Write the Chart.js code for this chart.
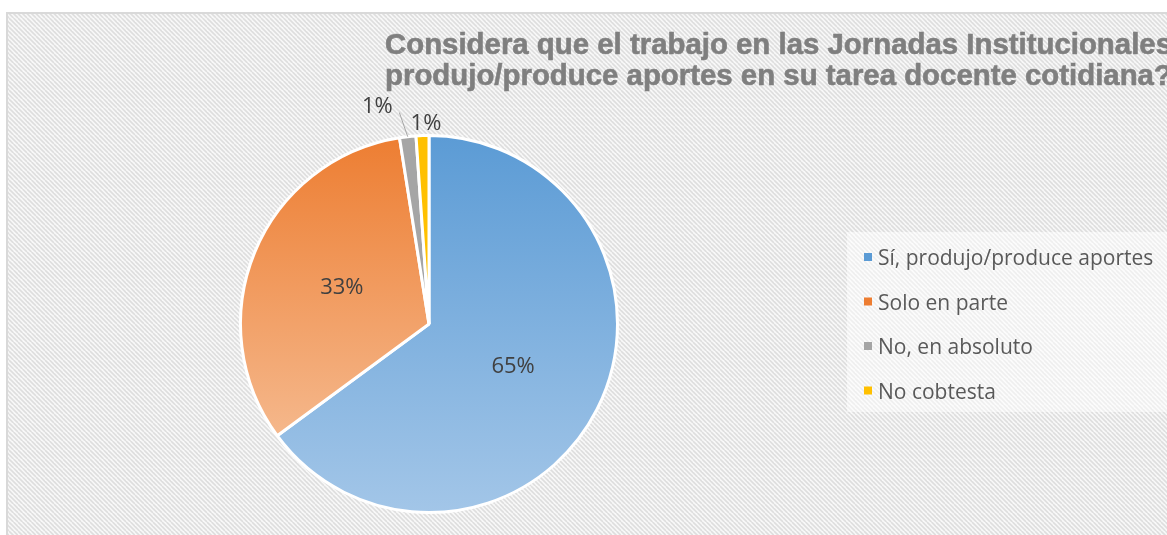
<!DOCTYPE html>
<html>
<head>
<meta charset="utf-8">
<script src="https://cdn.jsdelivr.net/npm/chart.js@4.4.1/dist/chart.umd.min.js"></script>
<style>
  html, body { margin: 0; padding: 0; background: #fff; }
  #wrap { width: 1167px; height: 535px; }
</style>
</head>
<body>
<div id="wrap"><canvas id="pie" width="1167" height="535"></canvas></div>
<script>
// ─── Data ───
const titleLines = [
  'Considera que el trabajo en las Jornadas Institucionales',
  'produjo/produce aportes en su tarea docente cotidiana?',
];
const categories = ['Sí, produjo/produce aportes', 'Solo en parte', 'No, en absoluto', 'No cobtesta'];
const shares = [64.9, 32.6, 1.4, 1.1];
const sliceColors = ['#5B9BD5', '#ED7D31', '#A5A5A5', '#FFC000'];
const sliceColorsLight = ['#A3C6E8', '#F5B88C', '#A5A5A5', '#FFC000'];

// ─── Helpers ───
function stripePattern(ctx) {
  const tile = document.createElement('canvas');
  tile.width = 9; tile.height = 9;
  const t = tile.getContext('2d');
  t.fillStyle = '#f8f8f8';
  t.fillRect(0, 0, 9, 9);
  t.strokeStyle = '#dedede';
  t.lineWidth = 1.6;
  for (const off of [-9, -4.5, 0, 4.5, 9]) {
    t.beginPath();
    t.moveTo(off, 0);
    t.lineTo(off + 9, 9);
    t.stroke();
  }
  return ctx.createPattern(tile, 'repeat');
}

function sliceFill(context) {
  const i = context.dataIndex;
  const area = context.chart.chartArea;
  if (!area || i > 1) return sliceColors[i];
  const h = area.bottom - area.top;
  const bottom = i === 0 ? area.bottom : area.top + h * 0.8;
  const g = context.chart.ctx.createLinearGradient(0, area.top, 0, bottom);
  g.addColorStop(0, sliceColors[i]);
  g.addColorStop(1, sliceColorsLight[i]);
  return g;
}

// ─── Plugins ───
const backdrop = {
  id: 'backdrop',
  beforeDraw(chart) {
    const { ctx, width, height } = chart;
    ctx.save();
    ctx.fillStyle = '#fff';
    ctx.fillRect(0, 0, width, height);
    ctx.fillStyle = stripePattern(ctx);
    ctx.fillRect(7, 13, width, height);
    ctx.strokeStyle = '#d9d9d9';
    ctx.lineWidth = 2;
    ctx.strokeRect(7, 13, width + 10, height + 10);
    // title
    ctx.fillStyle = '#7f7f7f';
    ctx.strokeStyle = '#7f7f7f';
    ctx.lineWidth = 0.6;
    ctx.font = 'bold 29px "Liberation Sans", Arial, sans-serif';
    ctx.textBaseline = 'alphabetic';
    const w0 = ctx.measureText(titleLines[0]).width;
    const sx = 787 / w0;
    titleLines.forEach((line, k) => {
      ctx.save();
      ctx.translate(385, 54 + k * 31);
      ctx.scale(sx, 1);
      ctx.fillText(line, 0, 0);
      ctx.strokeText(line, 0, 0);
      ctx.restore();
    });
    // legend
    ctx.fillStyle = 'rgba(255,255,255,0.5)';
    ctx.fillRect(847, 232, width - 847, 180);
    ctx.font = '21px "Open Sans", sans-serif';
    categories.forEach((name, i) => {
      const y = 265 + i * 44.5;
      ctx.fillStyle = sliceColors[i];
      ctx.fillRect(864, y - 12, 8, 8);
      ctx.fillStyle = '#595959';
      ctx.fillText(name, 878, y);
    });
    ctx.restore();
  },
};

const sliceLabels = {
  id: 'sliceLabels',
  afterDatasetsDraw(chart) {
    const { ctx } = chart;
    const arcs = chart.getDatasetMeta(0).data;
    ctx.save();
    ctx.font = '22px "Open Sans", sans-serif';
    ctx.fillStyle = '#404040';
    ctx.textAlign = 'center';
    ctx.textBaseline = 'middle';
    arcs.forEach((arc, i) => {
      const text = Math.round(shares[i]) + '%';
      const mid = (arc.startAngle + arc.endAngle) / 2;
      if (shares[i] > 5) {
        const p = arc.tooltipPosition();
        ctx.fillText(text, p.x, p.y);
        return;
      }
      const r = arc.outerRadius;
      if (i === 2) {
        const a = mid - 0.12;
        const lx = arc.x + Math.cos(a) * (r + 35);
        const ly = arc.y + Math.sin(a) * (r + 35);
        ctx.fillText(text, lx, ly);
        ctx.strokeStyle = '#a6a6a6';
        ctx.lineWidth = 1;
        ctx.beginPath();
        ctx.moveTo(lx + 22, ly + 6);
        ctx.lineTo(arc.x + Math.cos(mid) * r, arc.y + Math.sin(mid) * r);
        ctx.stroke();
      } else {
        const lx = arc.x + Math.cos(mid) * (r + 14) + 4;
        const ly = arc.y + Math.sin(mid) * (r + 14) + 2;
        ctx.fillText(text, lx, ly);
      }
    });
    ctx.restore();
  },
};

// ─── Chart ───
new Chart(document.getElementById('pie'), {
  type: 'pie',
  data: {
    labels: categories,
    datasets: [{
      data: shares,
      backgroundColor: sliceFill,
      borderColor: '#ffffff',
      borderWidth: 3,
    }],
  },
  options: {
    responsive: false,
    animation: false,
    devicePixelRatio: 1,
    layout: { padding: { top: 134, bottom: 21, left: 239, right: 548 } },
    plugins: {
      legend: { display: false },
      tooltip: { enabled: false },
      title: { display: false },
    },
  },
  plugins: [backdrop, sliceLabels],
});
</script>
</body>
</html>
